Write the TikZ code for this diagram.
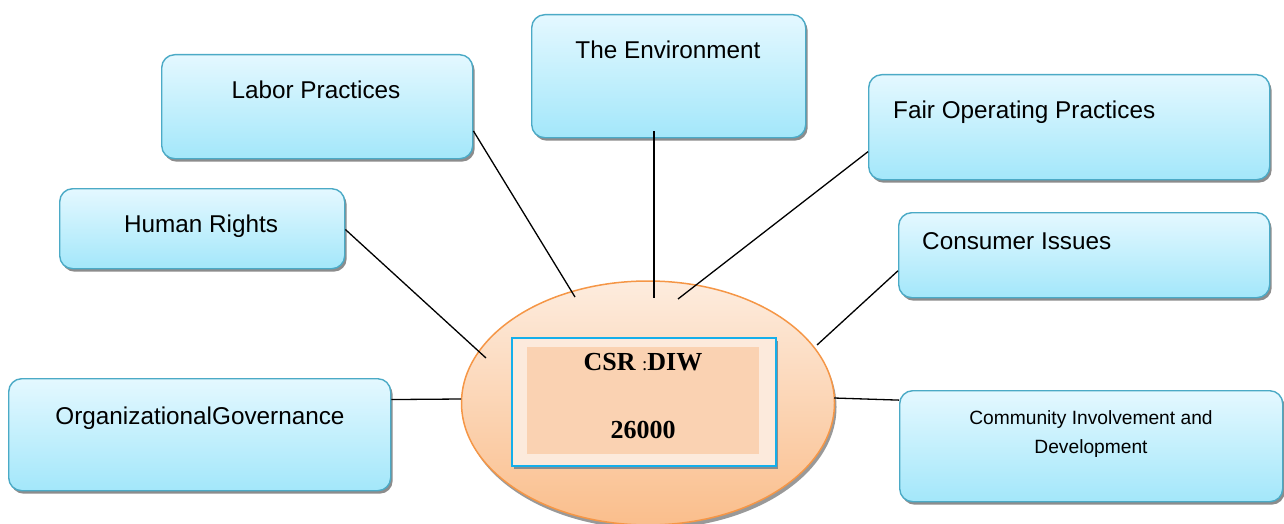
\documentclass[tikz,border=0pt]{standalone}
\usepackage{fontspec}
\setmainfont{Liberation Serif}
\newfontfamily\arialf{Liberation Sans}
\usetikzlibrary{shadows,calc,shapes.geometric}
\definecolor{boxtop}{RGB}{228,248,255}
\definecolor{boxbot}{RGB}{163,231,250}
\definecolor{boxline}{RGB}{75,170,198}
\definecolor{elltop}{RGB}{253,236,222}
\definecolor{ellbot}{RGB}{250,190,140}
\definecolor{ellline}{RGB}{245,150,70}
\definecolor{rectblue}{RGB}{20,175,235}
\definecolor{rectout}{RGB}{252,234,220}
\definecolor{rectin}{RGB}{250,210,178}
\tikzset{
  topicbox/.style={rounded corners=13pt, draw=boxline, line width=1.4pt,
    top color=boxtop, bottom color=boxbot, anchor=north west, inner sep=0pt,
    drop shadow={shadow xshift=2pt, shadow yshift=-3pt, fill=black!45, opacity=1}},
  topictext/.style={font=\arialf\fontsize{24.3}{28}\selectfont, anchor=base, inner sep=0pt},
  comtext/.style={font=\arialf\fontsize{19.2}{22}\selectfont, anchor=base, inner sep=0pt},
  conn/.style={draw=black, line width=1.3pt},
}
\begin{document}
\begin{tikzpicture}[x=1pt,y=-1pt]
\useasboundingbox (0,0) rectangle (1284,524);
% central ellipse
\node[ellipse, draw=ellline, line width=1.5pt, top color=elltop, bottom color=ellbot,
  minimum width=373pt, minimum height=244pt, inner sep=0pt,
  drop shadow={shadow xshift=2pt, shadow yshift=-4pt, fill=black!40, opacity=1}] (csr) at (648,403) {};
\node[draw=rectblue, line width=1.5pt, fill=rectout, minimum width=264pt, minimum height=128pt,
  anchor=north west, inner sep=0pt,
  drop shadow={shadow xshift=2pt, shadow yshift=-3pt, fill=black!45, opacity=1}] (outer) at (511,337) {};
\node[fill=rectin, minimum width=232pt, minimum height=107pt, anchor=north west, inner sep=0pt] (inner) at (527,347) {};
\node[anchor=base, inner sep=0pt, font=\bfseries\fontsize{26}{30}\selectfont] (csrt) at (643,370) {CSR {\mdseries\fontsize{19}{22}\selectfont :}DIW};
\node[anchor=base, inner sep=0pt, font=\bfseries\fontsize{26}{30}\selectfont] (num) at (643,438) {26000};

% topic boxes
\node[topicbox, minimum width=274pt, minimum height=123pt] (env) at (531,14) {};
\node[topicbox, minimum width=311pt, minimum height=104pt] (lab) at (161,54) {};
\node[topicbox, minimum width=401pt, minimum height=105pt] (fair) at (868,74) {};
\node[topicbox, minimum width=285pt, minimum height=80pt] (hum) at (59,188) {};
\node[topicbox, minimum width=371pt, minimum height=85pt] (cons) at (898,212) {};
\node[topicbox, minimum width=382pt, minimum height=112pt] (org) at (8,378) {};
\node[topicbox, minimum width=383pt, minimum height=111pt] (com) at (899,390) {};

% texts
\node[topictext] (envt) at (668,59) {The Environment};
\node[topictext] (labt) at (316,99) {Labor Practices};
\node[topictext, anchor=base west] (fairt) at (893,118) {Fair Operating Practices};
\node[topictext] (humt) at (201,232) {Human Rights};
\node[topictext, anchor=base west] (const) at (922,249) {Consumer Issues};
\node[topictext] (orgt) at (200,424) {OrganizationalGovernance};
\node[comtext] (comt1) at (1091,424) {Community Involvement and};
\node[comtext] (comt2) at (1091,453) {Development};

% connector end points inside the ellipse
\coordinate (eLab) at (575,297);
\coordinate (eEnv) at (654,298);
\coordinate (eFair) at (678,299);
\coordinate (eHum) at (486,358);
\coordinate (eCons) at (817,345);
\coordinate (eOrg) at (461,399);
\coordinate (eCom) at (834,398);

% connectors
\draw[conn] ($(lab.north east)!0.73!(lab.south east)$) -- (eLab);
\draw[conn] ([yshift=7pt]env.south -| eEnv) -- (eEnv);
\draw[conn] ($(fair.north west)!0.73!(fair.south west)$) -- (eFair);
\draw[conn] ($(hum.north east)!0.51!(hum.south east)$) -- (eHum);
\draw[conn] ($(cons.north west)!0.68!(cons.south west)$) -- (eCons);
\draw[conn] ($(org.north east)!0.19!(org.south east)$) -- (eOrg);
\draw[conn] ($(com.north west)!0.09!(com.south west)$) -- (eCom);
\end{tikzpicture}
\end{document}
